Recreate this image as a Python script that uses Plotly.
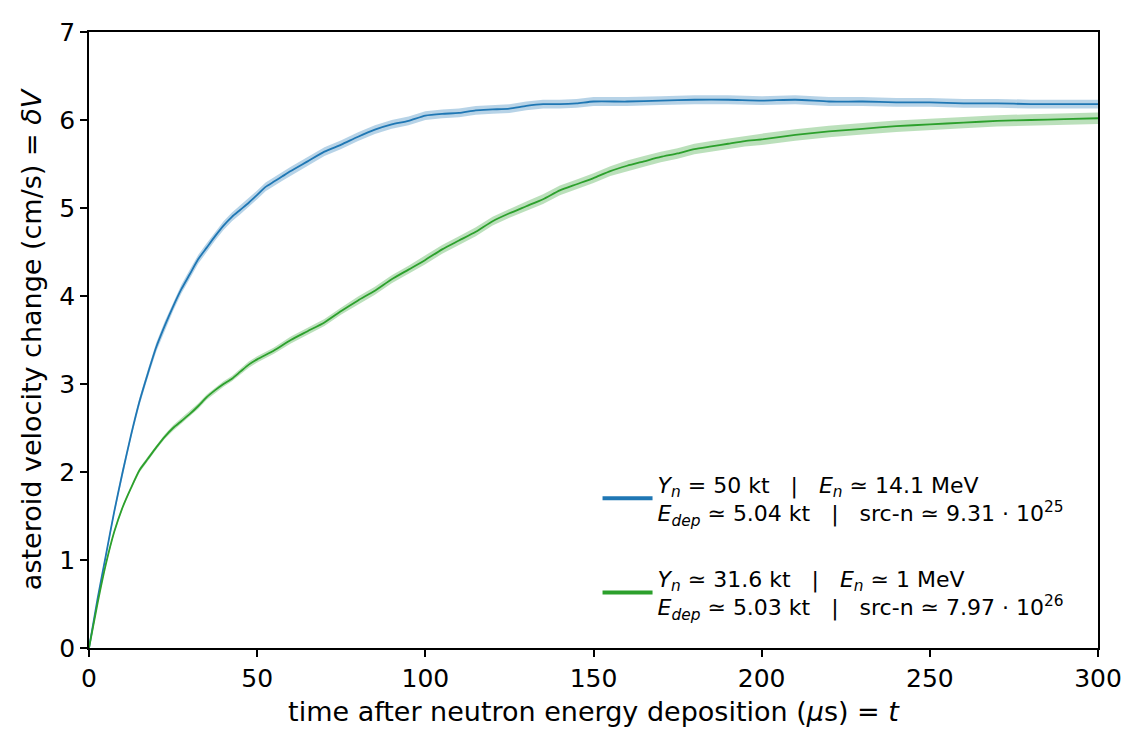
import plotly.graph_objects as go

t_blue = [0, 2.5, 5, 7.5, 10, 12.5, 15, 17.5, 20, 22.5, 25, 27.5, 30, 32.5, 35, 37.5, 40, 42.5, 45, 47.5,
          50, 52.5, 55, 57.5, 60, 65, 70, 75, 80, 85, 90, 95, 100, 105, 110, 115, 120, 125, 130, 135,
          140, 145, 150, 160, 170, 180, 190, 200, 210, 220, 230, 240, 250, 260, 270, 280, 290, 300]
v_blue = [0, 0.55, 1.05, 1.55, 2.0, 2.42, 2.8, 3.12, 3.42, 3.66, 3.88, 4.08, 4.25, 4.42, 4.55, 4.68, 4.8, 4.9, 4.98, 5.06,
          5.15, 5.24, 5.3, 5.36, 5.42, 5.53, 5.64, 5.72, 5.81, 5.89, 5.95, 5.99, 6.05, 6.07, 6.08, 6.11, 6.12, 6.13, 6.16, 6.18,
          6.18, 6.19, 6.21, 6.21, 6.22, 6.23, 6.23, 6.22, 6.23, 6.21, 6.21, 6.2, 6.2, 6.19, 6.19, 6.18, 6.18, 6.18]
err_blue = [0.0, 0.02, 0.03, 0.035, 0.04, 0.04, 0.045, 0.045, 0.05, 0.05, 0.05, 0.05, 0.05, 0.05, 0.05, 0.05, 0.05, 0.05, 0.05, 0.05,
            0.05, 0.05, 0.05, 0.05, 0.05, 0.05, 0.05, 0.05, 0.05, 0.05, 0.05, 0.05, 0.05, 0.05, 0.05, 0.05, 0.05, 0.05, 0.05, 0.05,
            0.05, 0.05, 0.05, 0.05, 0.05, 0.05, 0.05, 0.05, 0.05, 0.05, 0.05, 0.05, 0.05, 0.05, 0.05, 0.05, 0.05, 0.05]

t_green = [0, 2.5, 5, 7.5, 10, 12.5, 15, 17.5, 20, 22.5, 25, 27.5, 30, 32.5, 35, 37.5, 40, 42.5, 45, 47.5,
           50, 55, 60, 65, 70, 75, 80, 85, 90, 95, 100, 105, 110, 115, 120, 125, 130, 135, 140, 145,
           150, 155, 160, 165, 170, 175, 180, 185, 190, 195, 200, 210, 220, 230, 240, 250, 260, 270, 280, 290, 300]
v_green = [0, 0.5, 0.95, 1.32, 1.6, 1.82, 2.02, 2.15, 2.28, 2.4, 2.5, 2.58, 2.66, 2.75, 2.85, 2.93, 3.0, 3.06, 3.14, 3.22,
           3.28, 3.38, 3.5, 3.6, 3.7, 3.83, 3.95, 4.06, 4.19, 4.3, 4.41, 4.53, 4.63, 4.73, 4.85, 4.94, 5.02, 5.1, 5.2, 5.27,
           5.34, 5.42, 5.48, 5.53, 5.58, 5.62, 5.67, 5.7, 5.73, 5.76, 5.78, 5.83, 5.87, 5.9, 5.93, 5.95, 5.97, 5.99, 6.0, 6.01, 6.02]
err_green = [0.0, 0.01, 0.015, 0.02, 0.02, 0.02, 0.025, 0.025, 0.025, 0.025, 0.03, 0.03, 0.03, 0.03, 0.03, 0.03, 0.03, 0.03, 0.035, 0.035,
             0.035, 0.035, 0.04, 0.04, 0.04, 0.04, 0.045, 0.045, 0.045, 0.045, 0.05, 0.05, 0.05, 0.05, 0.05, 0.05, 0.055, 0.055, 0.055, 0.055,
             0.055, 0.055, 0.06, 0.06, 0.06, 0.06, 0.06, 0.06, 0.06, 0.06, 0.065, 0.065, 0.065, 0.065, 0.065, 0.065, 0.065, 0.065, 0.065, 0.065, 0.065]

label_blue = ("<i>Y</i><sub><i>n</i></sub> = 50 kt   |   <i>E</i><sub><i>n</i></sub> ≃ 14.1 MeV<br>"
              "<i>E</i><sub><i>dep</i></sub> ≃ 5.04 kt   |   src-n ≃ 9.31 · 10<sup>25</sup>")
label_green = ("<i>Y</i><sub><i>n</i></sub> ≃ 31.6 kt   |   <i>E</i><sub><i>n</i></sub> ≃ 1 MeV<br>"
               "<i>E</i><sub><i>dep</i></sub> ≃ 5.03 kt   |   src-n ≃ 7.97 · 10<sup>26</sup>")

BLUE = "#1f77b4"
GREEN = "#2ca02c"

fig = go.Figure()

def add_series(t, v, e, color, fill, label, group):
    upper = [a + b for a, b in zip(v, e)]
    lower = [a - b for a, b in zip(v, e)]
    fig.add_trace(go.Scatter(x=list(t) + list(t)[::-1], y=upper + lower[::-1], fill="toself",
                             fillcolor=fill, line=dict(width=0), mode="lines",
                             showlegend=False, hoverinfo="skip"))
    fig.add_trace(go.Scatter(x=t, y=v, mode="lines", line=dict(color=color, width=1.8, shape="spline", smoothing=0.6),
                             showlegend=False))
    fig.add_trace(go.Scatter(x=[None], y=[None], mode="lines", line=dict(color=color, width=4),
                             name=label, legendgroup=group, showlegend=True))

add_series(t_blue, v_blue, err_blue, BLUE, "rgba(31,119,180,0.32)", label_blue, "a")
add_series(t_green, v_green, err_green, GREEN, "rgba(44,160,44,0.32)", label_green, "b")

axis_common = dict(showline=True, linecolor="black", linewidth=1.5, mirror=True, ticks="outside",
                   ticklen=7, tickwidth=1.5, tickcolor="black", showgrid=False, zeroline=False,
                   ticklabeloverflow="allow", tickfont=dict(size=25, color="black"))

fig.update_layout(
    width=1124, height=728,
    margin=dict(l=81, r=32, t=10, b=88),
    plot_bgcolor="white", paper_bgcolor="white",
    font=dict(family="DejaVu Sans", size=25, color="black"),
    xaxis=dict(range=[0, 300], tickvals=[0, 50, 100, 150, 200, 250, 300],
               title=dict(text="time after neutron energy deposition (<i>μ</i>s) = <i>t</i>", font=dict(size=27), standoff=10),
               **axis_common),
    yaxis=dict(range=[0, 7], tickvals=[0, 1, 2, 3, 4, 5, 6, 7],
               title=dict(text="asteroid velocity change (cm/s) = <i>δV</i>", font=dict(size=27), standoff=10),
               **axis_common),
    legend=dict(x=0.504, y=0.30, xanchor="left", yanchor="top", bgcolor="rgba(0,0,0,0)",
                font=dict(size=22), tracegroupgap=34, itemwidth=50),
)

fig.write_html("out.html")
